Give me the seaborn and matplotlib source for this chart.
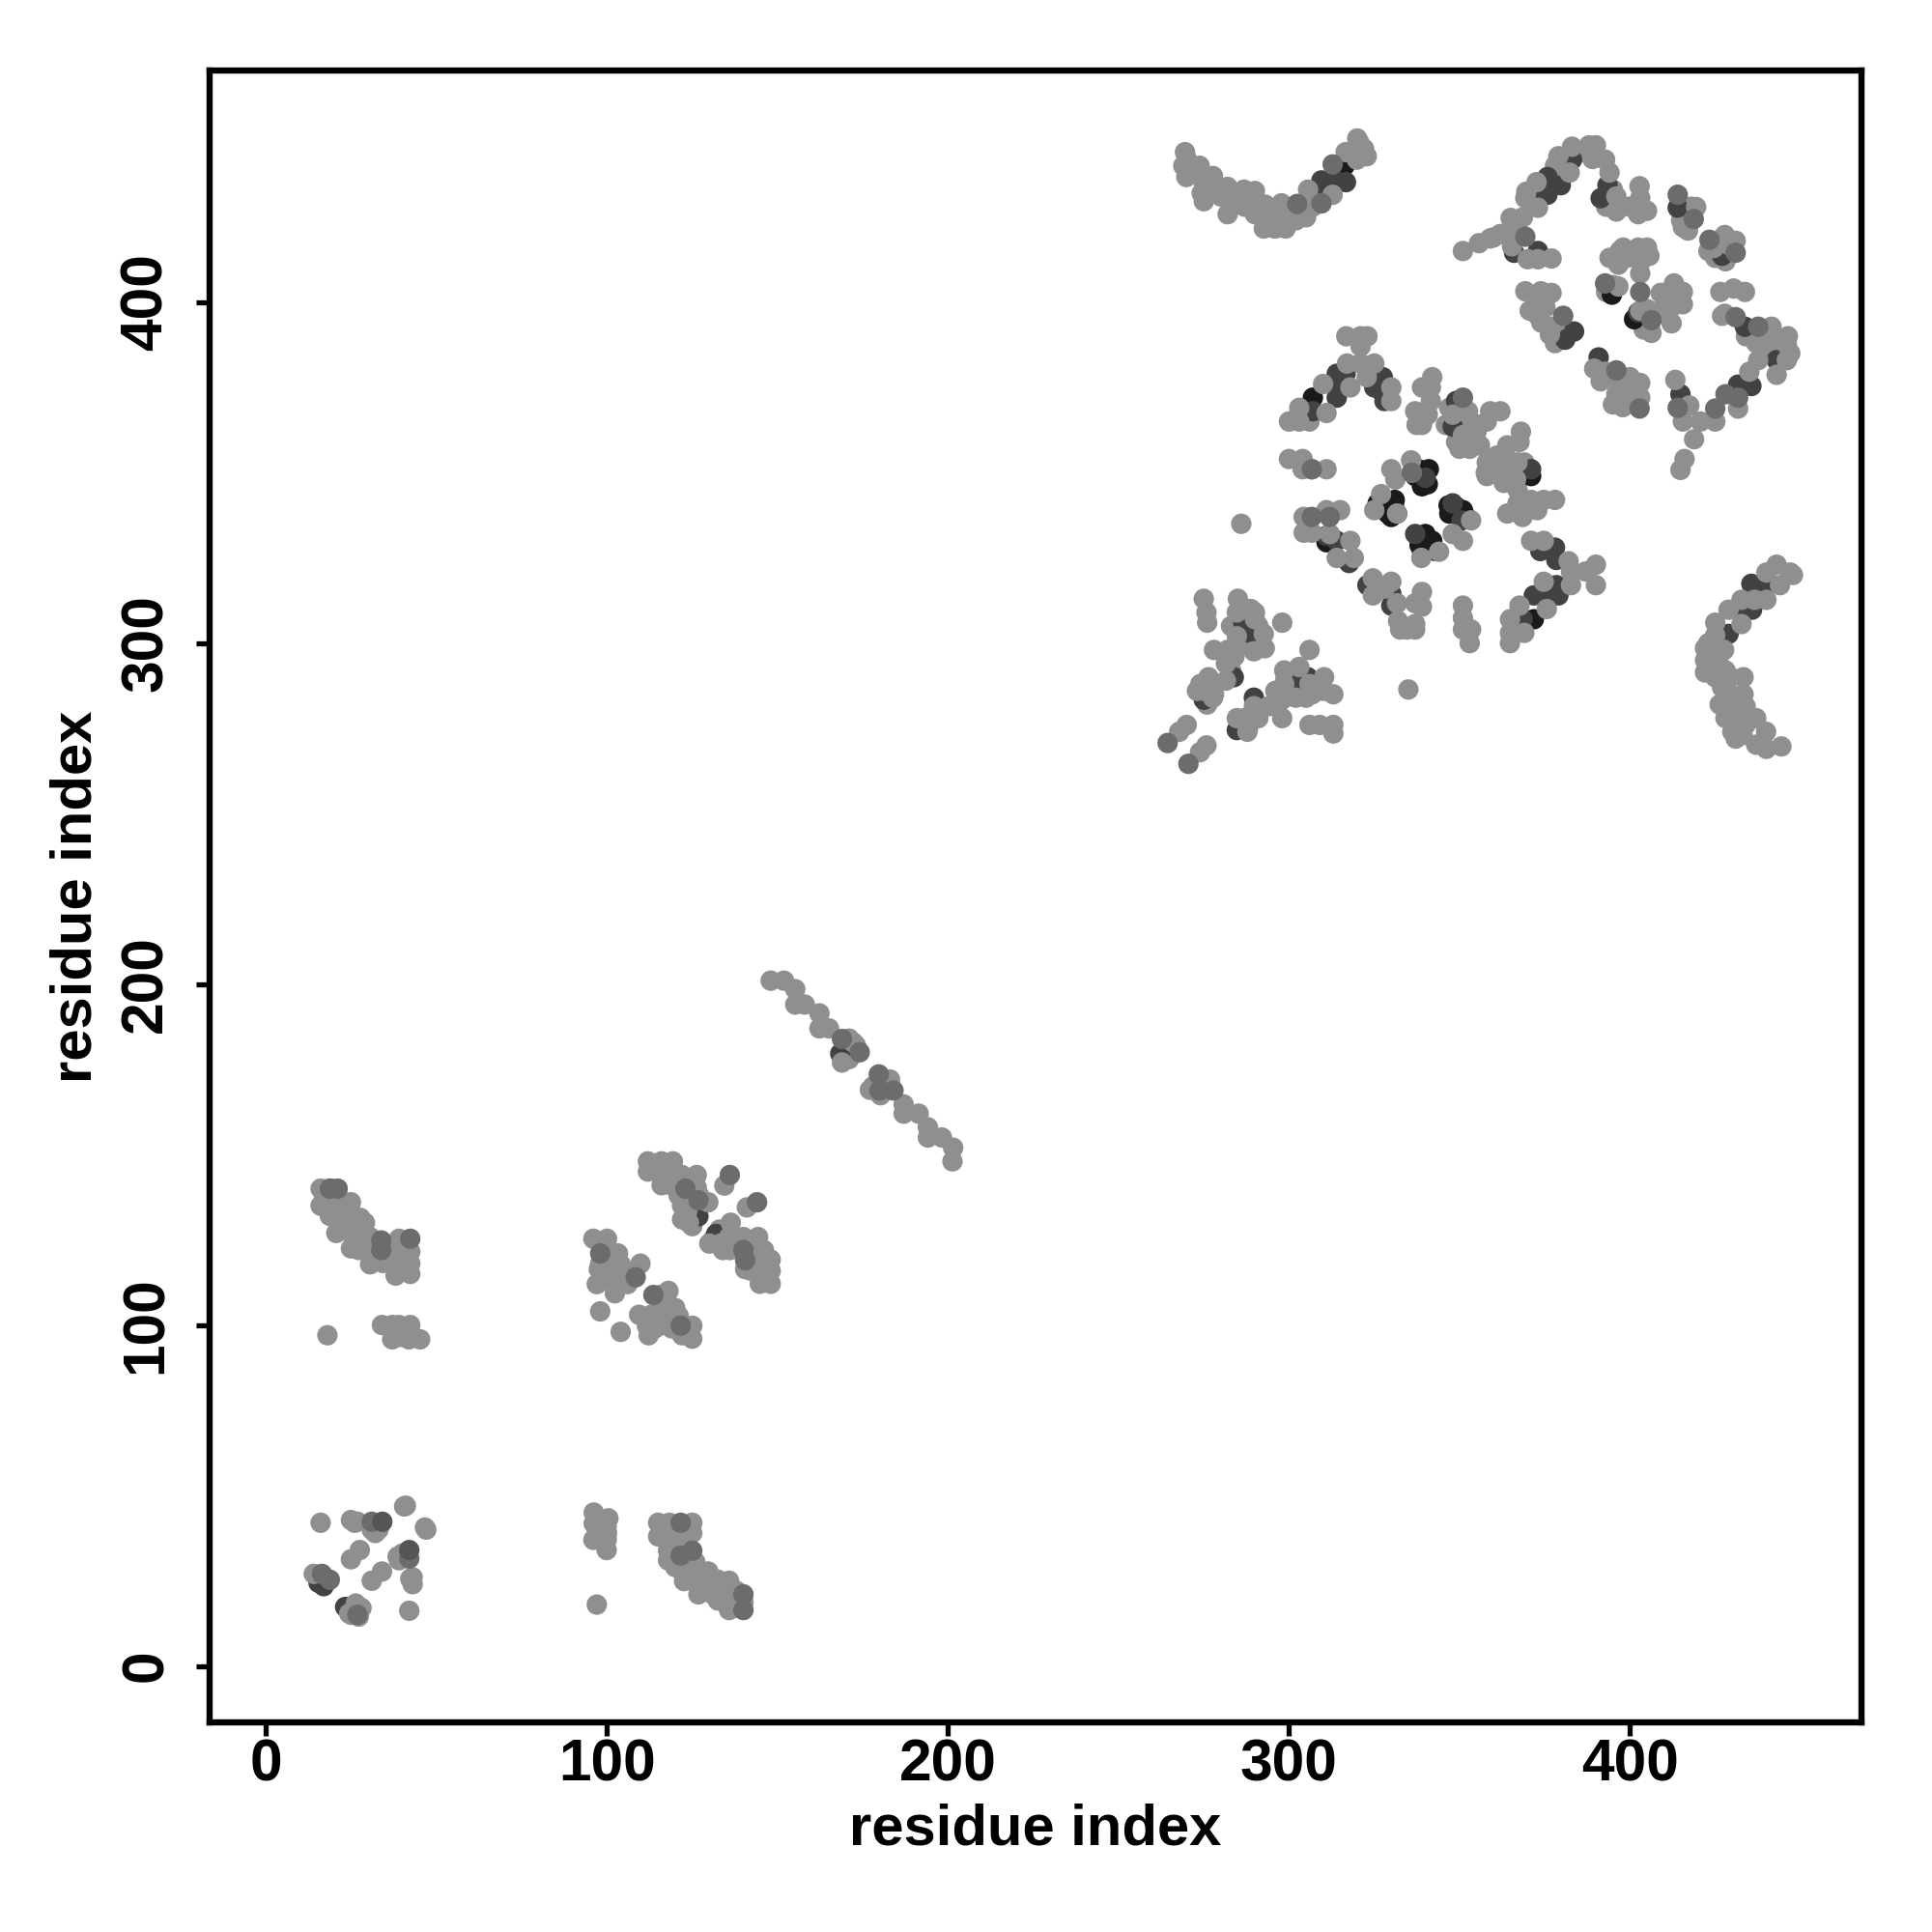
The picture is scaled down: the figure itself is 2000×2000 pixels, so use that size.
import pandas as pd
import seaborn as sns
import matplotlib
matplotlib.use('Agg')
import matplotlib.pyplot as plt

# contact pairs, split by how dark the dot is
x_black = [307,327,338,340.7,338.8,328,330.8,330,328,346.8,351,350,339.7,341.6,338.3,340,371,311,371.8,316.3,401.2,394.7,
           329,329,331,326,339,341,337,339,347,349,352,338,340,342,343,339]
y_black = [372,374,351,346.6,348,342,340,337,339,340.4,339,338,331,328.7,328.7,329.5,349,329.6,307,440,395,402.2,
           341,338,342,341,349,351,349,346,338,340,337,331,332,330,327,327]

x_dark = [307,314,314,314,316.6,327.5,325,328,349,338,348,371,367.6,373.7,378,378.4,378.4,379,375,371.8,368.5,323,330,330,311,314,317.6,340,331.7,348,350.6,337,
          283.8,275,289.7,284.7,286.6,288.5,301.7,305.5,439.6,435.6,435.8,432,428.9,309.5,308.9,313.4,316.7,371.9,375.8,375.8,379.7,383,393.4,391.4,366,373,414,427,402.4,433.7,443,431.7,435.6,414.8,390.8,383.6,381,
          126.8,132,15.4,16.9,23.2,168.4]
y_dark = [368,372,375,379,379,378,375,371,371,367.5,363.5,351,338.6,327,328,324.4,317,314,314,314,307,317,314.5,311,331.5,330,323.5,348.5,338,341,336,332,
          290,283.4,284,274.5,306,303,288,290,316.4,317.4,309.8,309.4,302.7,435.7,432,435.7,435.2,431,431.5,436.7,434.3,441.8,434.3,430.5,414.5,415,427.7,413.6,397,392.8,383,375.8,375.4,373,383.8,391.4,389,
          131.9,126.7,24.4,23.4,17.3,179.6]

x_mid = [351,264.4,270.5,302.4,312.8,309.5,369.3,414,418.7,431,423.3,392.7,406.3,431,437.6,428,431.7,425,414,396,380.4,402.8,403,
         21,18.7,33.8,33.8,42.3,123,126.8,136,144,140,140.5,98,108.4,113.6,121.6,
         31,42,16.4,18.7,26.8,121.6,121.6,125,140,140,168.9,174.1,179.7,179.9,184,306.7,306.7,336,311.9]
y_mid = [372,270.7,264.6,428.8,440.4,429,419.2,431.5,424.4,414.5,418.3,405.5,394.7,395.6,392.8,373,372,368.8,369,380,396,368.8,403,
         140,140,124.8,122,125.3,140,136.6,144,136,122,119,121,114,108.8,99.8,
         42.3,31.5,27,25.3,15,42,32.4,33.8,16.4,21,183.9,180,173.5,168.8,168.8,351,337,350,337]

x_light = [316.8,321,323,321,317,321,325,300,303,303,311,310,318,330,330,322.8,342,339,341.6,341.6,337,340.7,337.4,339,348,352.5,354,350,354,351,359,362,358,
           368,367.6,364,357.7,360,363,362,366.6,367,365,358,364,367,371,374.7,378,372.8,368.5,371,374.7,382,382.7,382.7,387,390,390,374.7,375.6,367.6,369,364.8,364.8,364.8,
           351,351,351,353.4,353,324.6,324.6,330,328,331.7,339,339,337,332,332.6,337,337,334.6,304.3,304.3,306.7,311,315,312,318,314,319,300,304,304,306.7,311,
           330,331.2,335.8,336,325,327,331.7,353.4,348,351,344,338.8,286,335,
           275,275.8,276,285,288.8,284.7,290,292.6,284.7,292.9,289.7,298,306,278,282,281.5,281.5,276.4,275,277.7,273,289.7,294,298,298,284.7,289.7,287.8,298.6,303,298.6,310.3,306,306.8,313,302,306,309,313,313,270,267.8,275.8,273.9,
           443,447,447.8,440,444,440,436.5,432.7,432.7,428.9,425,425,422,427.6,422,425.7,422,425,429.5,433.3,426.3,429.5,433.3,433.9,430.8,430,433.9,437,439.9,437,440,444.4,
           269.5,269,269.9,273.8,277.7,274.4,275,277,282,282,282.9,286.8,290,288.7,290,293,292.6,297.8,299,295.9,297.8,305,305.6,309.5,312.8,319.9,316.6,320,320.5,322.8,
           351,355.7,359,362,365,368.6,369.3,369.6,372.6,373,379,383,382.3,388,390,392.7,394,396,396,365.4,370,377,373,402.8,403,402.4,405,419.4,415.5,424.6,427.8,429,
           394,397,402.4,405.7,403,396.6,403,396.6,409,412.9,415.5,412.2,415.5,412.2,403,406.3,426.5,430.4,433.7,427.8,427,441.5,442,446.3,446,446,443,437.6,435,431.7,425,
           413.3,417.4,420.7,415.5,418.8,416,414.8,389.5,392.7,391.4,398.6,403,397.9,403,396,369.3,373.9,377,370.6,375.2,377,376.5,
           16,16,18.7,20.6,22.5,24.9,27.7,25.3,24.9,27.2,30.5,30.5,34.3,39,42.3,39,38,42.3,42.3,38,18,34,37,39,42.3,37,41.9,45.2,39.5,
           112,116,119.3,112,116,118.8,122,126.3,126.3,129.7,123.5,124,134.4,141,136.3,130,133.4,135.8,140,144.3,140.5,144.8,148,148,144.8,148,
           96,100,103.2,97.6,101.3,104,109.8,97,102.3,102.3,98,104,115.5,118,109.4,115.5,111.7,115.5,112.2,121,125,125,
           16,24.9,26.8,32,40.5,46.6,27.5,24.9,38.6,34,31,42.3,42,14,24.4,26.3,27.2,
           96.1,100.4,96.1,99.9,96,99.9,99.9,97,115,118.3,125,115,118.3,125,117.9,117.9,122,125.9,122.6,126.8,129.7,132.5,135.8,132.5,135.8,140,
           148,151.9,155.2,155.2,158,162.3,162.3,165.1,172.2,168.9,177.1,183,180.2,187,187,191.4,194.1,194.1,198.2,201.5,201.3]
y_light = [390,390,390,387,382,382,382,365,365,369,367.5,376,375,375,371,378,378,375,375,371,368,367,364,364,367,368,364.5,357,360,361,368,368,365,
           362,359,358,350,352,353,349.4,348,353,350,353,338,341,342,342,342,339,337,330,330,324,321,317,321,323,317,318,310,311,303,307,303,300,
           311,307.4,304,304,300,319,314,318,316,311.7,315,310.7,311.7,306.5,304,305.6,304,304,337,332.4,332.4,339,339,332,330,325,325,354,354,351,351,351,
           351,348,353.6,350,339,343.7,338,336,332,330,326.8,325,335,286.4,
           313,309,306,313,310,309,307,302.7,302,298.5,297.6,306,298,298,298,294,289,290,286,284,286,281.5,281.5,283.4,278,278,277.7,274,292,293,288,290,288,285,285,284,276,276,276,273.5,276,274,270,268,
           323,320.7,320,320.7,317,312.7,312.7,312.7,305.6,309.8,306,302.3,298.5,298,295,293.8,291.4,290,290,290,282,285,285,281.5,278.7,274,276,278,274,270.2,269,269.7,
           444,440,436.7,440,437,432,429.6,432.4,425.8,433.8,430,433,432.6,428.6,425.8,428.6,421.6,429,421.6,421.6,424.9,424.9,433,429,431.5,441.8,444,448,447,442.8,
           415,417.3,418.7,420,424.7,424.9,430.5,432.4,435.2,427.7,442.8,445.6,438,446,446,441.8,438,431,426.6,416.4,412.6,412.8,412.6,434,430.5,425.8,426.8,427.9,422,415.9,419.7,416.8,
           413,415,416,413.6,411.7,411,408.4,404.6,402.7,405.5,403,398.5,399.4,393.8,397.5,391,403,404,403,396.6,396,392.8,390,390,387.6,383,378.7,383,379.6,368.8,365,
           377.2,369.7,365,365,359.8,354,350.8,380.5,379.6,376.8,376.3,376.3,369.2,372,373,403.2,403.2,402.7,397.5,398.5,392.8,390.5,
           140,135,132,127,134,136,131.4,126.7,122.5,122,125.8,117.8,118.2,125.3,121.5,121,114.5,115,118,117.3,97,100,100,100,100,95.8,95.8,95.8,96.5,
           148,148,148,145,141,141,144,144,140.4,136,133.3,130,140.9,134.5,130,123.9,123.9,125.8,125.8,125.8,116.4,119.2,119.2,115.9,112.1,112.1,
           125.3,125.3,121,116.4,116.4,117.8,118,112,111.6,109.3,104,98,108.8,110,103,103.6,99.8,99.8,97,102.7,99.8,96,
           42,42.8,42.3,39,46.8,40.6,34,31.3,32.1,27.7,25,25.6,16.2,27,15.4,18.3,14.5,
           45,43.3,41.8,41,37,37,34,18,42,42,42,38,38,39,33.8,31,27.7,30.5,24.9,21,27.7,25.3,25,19.2,16.4,18.7,
           201,201,198.5,194,194,191.4,187,187,182.9,177,169,172,167.4,164.7,162,162,158,155,155,152,148]

# second pass over the dense patches, same grey as the light dots
x_fill = [17,19,21,23,25,27,29,31,33,36,36,38,40,29,25,21,19,27,31,41,
          121,122,124,122,125,133,136,138,142,142,146,146,134,114,118,124,127,131,
          98,100,102,99,104,106,106,100,114,117,119,122,118,113,120,112,
          119,121,120,123,124,127,128,130,134,136,138,137,138,131,120,122,
          97,98,100,98,16,15,25,25,26,26,41,47,43,43,33,31,39,40,28,
          170,171,171,181,182,178,173,
          270,271,275,280,283,286,287,292,294,296,294,297,300,302,307,318,322,
          355,352,356,351,353,349,358,360,363,365,368,369,361,367,350,347,346,
          283,285,287,290,291,291,288,286,290,278,274,276,277,287,286,288,291,299,300,303,305,308,310,296,284,283,
          423,424,426,424,428,427,430,432,428,431,433,429,434,
          374,372,374,379,378,373,393,397,400,400,395,396,399,401,403,405,398,410,411,414,411,404,403,405,393,395,
          418,415,417,426,428,425,431,423,440,444,447,442,434,437,366,360,378,386,389,395,393,400,303,306]
y_fill = [138,136,134,132,130,128,126,122,120,119,122,124,119,130,133,138,140,124,120,123,
          138,135,137,131,129,128,122,124,122,116,116,122,122,146,145,142,138,125,
          118,119,114,114,113,112,115,122,99,101,99,97,104,103,105,102,
          35,35,29,28,31,26,24,24,22,20,19,17,22,21,40,39,
          39,40,39,43,25,26,17,15,16,42,47,40,26,24,40,40,31,33,17,
          181,184,178,171,169,170,182,
          442,438,435,431,428,431,428,426,424,424,422,422,425,424,428,443,445,
          362,364,358,358,357,359,349,350,347,347,350,353,355,345,366,369,364,
          305,305,310,309,305,300,300,300,298,285,288,282,287,278,276,275,278,290,286,287,284,288,286,286,296,292,
          300,296,296,292,292,287,282,279,278,272,273,283,278,
          401,398,394,393,388,396,379,376,372,378,370,412,413,414,413,416,416,399,403,401,396,392,396,398,403,405,
          428,424,421,418,412,413,418,415,388,388,385,385,390,388,421,419,440,444,442,433,428,428,366,365]

# the few dark dots that lie fully on top of their neighbours
x_top = [34.1, 42]
y_top = [42.3, 34]

tick_vals = [0, 100, 200, 300, 400]

tone_colors = {'fill': '#8f8f8f', 'black': '#1a1a1a', 'dark': '#424242', 'mid': '#6c6c6c',
               'light': '#8f8f8f', 'top': '#555555'}

frames = []
for tone, xs, ys in [('fill', x_fill, y_fill), ('black', x_black, y_black), ('dark', x_dark, y_dark),
                     ('light', x_light, y_light), ('mid', x_mid, y_mid), ('top', x_top, y_top)]:
    frames.append(pd.DataFrame({'x': xs, 'y': ys, 'tone': tone}))
df = pd.concat(frames, ignore_index=True)

sns.set_theme(style='white')
plt.rcParams['font.family'] = ['Liberation Sans', 'DejaVu Sans']

fig = plt.figure(figsize=(10, 10), dpi=200)
ax = fig.add_axes([0.1084, 0.1084, 0.8553, 0.8552])
sns.scatterplot(data=df, x='x', y='y', hue='tone', palette=tone_colors, s=58,
                linewidth=0, legend=False, ax=ax)

ax.set_xlim(-16.6, 468)
ax.set_ylim(-16.6, 468)
ax.set_xticks(tick_vals)
ax.set_yticks(tick_vals)
ax.tick_params(axis='both', length=5, width=1.9, color='black', bottom=True, left=True,
               labelsize=21.8, labelcolor='black')
ax.tick_params(axis='x', pad=1)
ax.tick_params(axis='y', pad=8)
for lab in ax.get_xticklabels():
    lab.set_fontweight('bold')
for lab in ax.get_yticklabels():
    lab.set_fontweight('bold')
    lab.set_rotation(90)
    lab.set_va('center')

ax.set_xlabel('residue index', fontsize=21.5, fontweight='bold', color='black')
ax.set_ylabel('residue index', fontsize=21.5, fontweight='bold', color='black')
ax.xaxis.set_label_coords(0.5, -0.065)
ax.yaxis.set_label_coords(-0.0805, 0.5)
ax.xaxis.label.set_va('center')
ax.yaxis.label.set_va('center')

for side in ax.spines.values():
    side.set_visible(True)
    side.set_color('black')
    side.set_linewidth(2.3)

fig.savefig('out.png', dpi=200)
